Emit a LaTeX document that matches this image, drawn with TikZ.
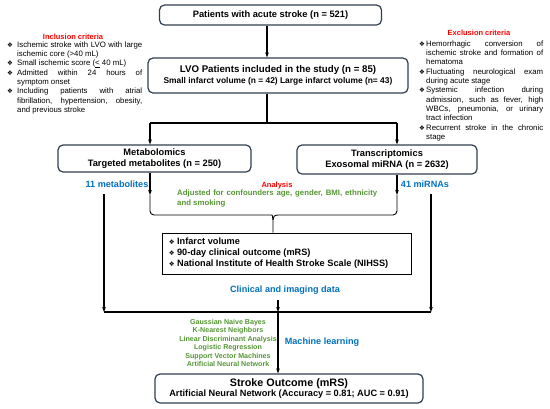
\documentclass[tikz,border=0pt]{standalone}
\usepackage{fontspec}
\setmainfont{Liberation Sans}
\newfontfamily\symfont{DejaVu Sans}
\usetikzlibrary{arrows.meta,positioning,calc}
\definecolor{cBox}{RGB}{47,62,79}
\definecolor{cBlue}{RGB}{0,112,192}
\definecolor{cGreen}{RGB}{84,150,52}
\definecolor{cRed}{RGB}{255,0,0}
\tikzset{
  blk/.style={draw=cBox, line width=1.2pt, rounded corners=5pt, align=center, inner sep=1pt, font=\bfseries\fontsize{9.3}{10.8}\selectfont},
  arr/.style={-{Stealth[length=5pt,width=3.6pt]}, line width=1.1pt},
  ln/.style={line width=1.1pt},
  blu/.style={text=cBlue, font=\bfseries\fontsize{9.1}{10}\selectfont},
  grn/.style={text=cGreen, align=center, font=\bfseries\fontsize{7.1}{8.4}\selectfont},
  ttl/.style={text=cRed, font=\bfseries\fontsize{7.5}{8}\selectfont},
  crit/.style={anchor=north west, align=justify, inner sep=0pt, font=\fontsize{7.8}{9.3}\selectfont}
}
\newcommand{\bul}{{\symfont\fontsize{6.5}{6.5}\selectfont ❖}}
\newcommand{\critem}[2]{\hangindent=#1pt\hangafter=1\noindent\makebox[#1pt][l]{\bul}#2\par}

\begin{document}
\begin{tikzpicture}[x=1pt, y=-1pt]
  \useasboundingbox (0,0) rectangle (550,408);
  % boxes
  \node[blk, minimum width=222, minimum height=20] (pat) at (270.5,15) {Patients with acute stroke (n = 521)};
  \node[blk, minimum width=260, minimum height=35] (lvo) at (278,75.5) {{\fontsize{9.7}{11}\selectfont LVO Patients included in the study (n = 85)}\\
    {\fontsize{8.4}{9.5}\selectfont Small infarct volume (n = 42) Large infarct volume (n= 43)}};
  \node[blk, minimum width=193, minimum height=27] (met) at (154.5,158.5) {Metabolomics\\Targeted metabolites (n = 250)};
  \node[blk, minimum width=180, minimum height=29] (tra) at (387,159.5) {Transcriptomics\\Exosomal miRNA (n = 2632)};
  \node[draw, line width=0.9pt, minimum width=249, minimum height=41, inner sep=0pt] (outc) at (286.5,253.5) {};
  \node[anchor=west, align=left, inner sep=0pt, font=\bfseries\fontsize{9.2}{11}\selectfont] (outt) at ([xshift=7]outc.west)
    {\bul\ Infarct volume\\\bul\ 90-day clinical outcome (mRS)\\\bul\ National Institute of Health Stroke Scale (NIHSS)};
  \node[blk, minimum width=268, minimum height=29] (str) at (289,388.5) {{\fontsize{10.8}{12}\selectfont Stroke Outcome (mRS)}\\
    {\fontsize{9.2}{10.5}\selectfont Artificial Neural Network (Accuracy = 0.81; AUC = 0.91)}};

  % criteria
  \node[ttl] (inct) at (73,37) {Inclusion criteria};
  \node[crit, text width=135] (inc) at (7,41.5) {%
    \critem{10}{Ischemic stroke with LVO with large\linebreak ischemic core (>40 mL)}
    \critem{10}{Small ischemic score (\underline{<} 40 mL)}
    \critem{10}{Admitted within 24 hours of\linebreak symptom onset}
    \critem{10}{Including patients with atrial\linebreak fibrillation, hypertension, obesity,\linebreak and previous stroke}};
  \node[ttl] (exct) at (479,33) {Exclusion criteria};
  \node[crit, text width=124] (exc) at (419,40.5) {%
    \critem{7}{Hemorrhagic conversion of\linebreak ischemic stroke and formation of\linebreak hematoma}
    \critem{7}{Fluctuating neurological exam\linebreak during acute stage}
    \critem{7}{Systemic infection during\linebreak admission, such as fever, high\linebreak WBCs, pneumonia, or urinary\linebreak tract infection}
    \critem{7}{Recurrent stroke in the chronic\linebreak stage}};

  % labels
  \node[blu] (l11) at (117,184) {11 metabolites};
  \node[blu] (l41) at (425,184) {41 miRNAs};
  \node[ttl] (ana) at (277,186) {Analysis};
  \node[anchor=north west, text width=200, align=justify, inner sep=0pt, text=cGreen, font=\bfseries\fontsize{7.8}{10}\selectfont] (adj) at (177,190)
    {Adjusted for confounders age, gender, BMI, ethnicity\linebreak and smoking};
  \node[blu] (cli) at (285,290) {Clinical and imaging data};
  \node[grn] (alg) at (228,343) {Gaussian Naive Bayes\\K-Nearest Neighbors\\Linear Discriminant Analysis\\Logistic Regression\\Support Vector Machines\\Artificial Neural Network};
  \node[blu] (mlr) at (322,342) {Machine learning};

  % coordinates
  \coordinate (sp) at (267,123);
  \coordinate (ml) at (150,123);
  \coordinate (mr) at (397,123);
  \coordinate (bl) at (150,195);
  \coordinate (br) at (397,195);
  \coordinate (bt) at (273,215);
  \coordinate (hl) at (104,312);
  \coordinate (hr) at (431,312);
  \coordinate (hc) at (278,312);

  % connectors
  \draw[arr] (pat.south -| sp) -- (lvo.north -| sp);
  \draw[ln] (lvo.south -| sp) -- (sp);
  \draw[ln] (ml) -- (mr);
  \draw[arr] (ml) -- (met.north -| ml);
  \draw[arr] (mr) -- (tra.north -| mr);
  \draw[arr] (met.south -| bl) -- (bl);
  \draw[arr] (tra.south -| br) -- (br);
  \draw[line width=0.9pt] (bl) [rounded corners=4pt] -- (bl |- bt) -- ([xshift=-5]bt) [sharp corners]
    .. controls ([xshift=-1]bt) and ($(bt)+(0,2)$) .. ($(bt)+(0,5)$) -- (outc.north -| bt);
  \draw[line width=0.9pt] ($(bt)+(0,5)$) .. controls ($(bt)+(0,2)$) and ([xshift=1]bt) .. ([xshift=5]bt)
    [rounded corners=4pt] -- (br |- bt) -- (br);
  \draw[arr] (l11.south -| hl) ++(0,3) -- (hl);
  \draw[arr] (l41.south -| hr) ++(0,3) -- (hr);
  \draw[ln] (hl) -- (hr);
  \draw[arr] (cli.south -| hc) ++(0,2) -- (hc);
  \draw[arr] (hc) -- (str.north -| hc);
\end{tikzpicture}
\end{document}
